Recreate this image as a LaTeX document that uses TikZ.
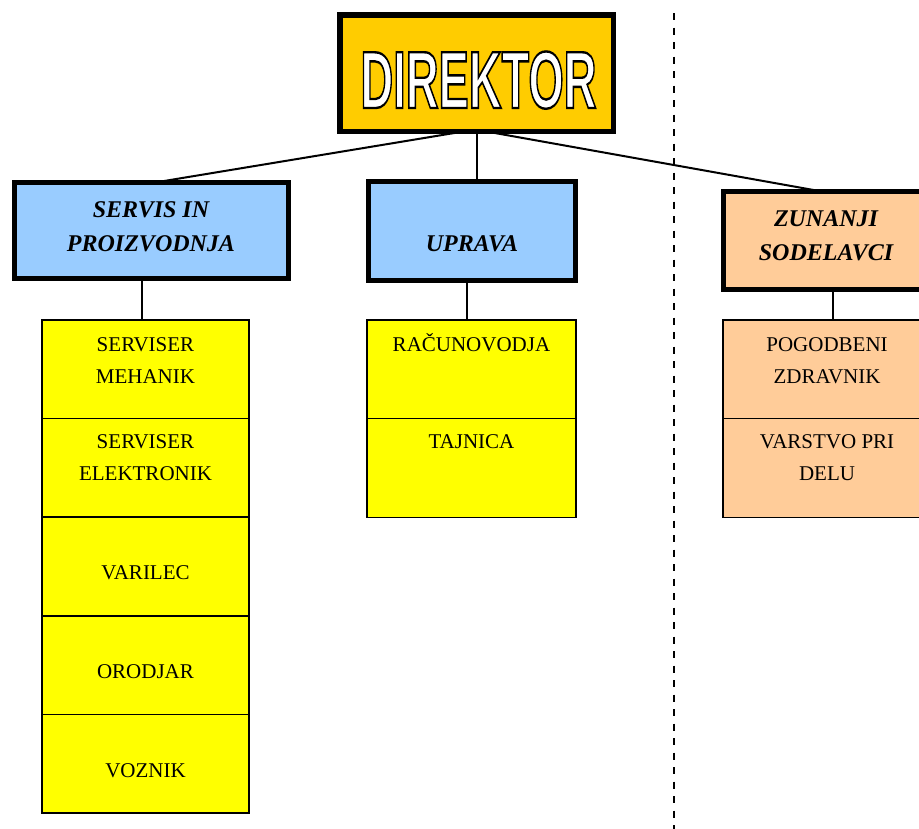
\documentclass[tikz,border=0pt]{standalone}
\usepackage{fontspec}
\setmainfont{Liberation Serif}
\newfontfamily\dirfont{Liberation Sans}
\definecolor{dirgold}{HTML}{FFCC00}
\definecolor{headblue}{HTML}{99CCFF}
\definecolor{ylw}{HTML}{FFFF00}
\definecolor{peach}{HTML}{FFCC99}
\newcommand\dirtext{\special{pdf:literal direct q 2 Tr 2.4 w 0 0 0 RG 1 1 1 rg}\scalebox{0.56}[1]{\fontsize{81}{81}\selectfont\dirfont\bfseries DIREKTOR}\special{pdf:literal direct Q}}
\begin{document}
\begin{tikzpicture}[x=1pt,y=-1pt,
  topbox/.style={draw, line width=5.5pt, fill=dirgold, inner sep=0pt, outer sep=0pt, minimum width=273.5pt, minimum height=116.5pt},
  head/.style={draw, line width=5pt, inner sep=0pt, outer sep=0pt},
  cell/.style={draw, line width=1.5pt, inner sep=0pt, outer sep=0pt},
  conn/.style={line width=2pt},
  htxt/.style={anchor=base, inner sep=0pt, font=\fontsize{24}{24}\selectfont\bfseries\itshape},
  ctxt/.style={anchor=base, inner sep=0pt, font=\fontsize{21}{21}\selectfont}
]
\useasboundingbox (0,0) rectangle (919,828);
% dashed separator
\coordinate (dtop) at (674,13);
\coordinate (dbot) at (674,830);
\draw[line width=2pt, dash pattern=on 7pt off 7.5pt] (dtop) -- (dbot);

% director
\node[topbox] (dir) at (476.5,73) {};
\node[anchor=base, inner sep=0pt] (dkt) at (478.5,108) {\dirtext};

% heads
\node[head, fill=headblue, minimum width=274pt, minimum height=96pt] (serv) at (151.5,230.5) {};
\node[head, fill=headblue, minimum width=207pt, minimum height=99pt] (upr) at (472,231) {};
\node[head, fill=peach, minimum width=205pt, minimum height=98pt] (zun) at (826,240.5) {};

\node[htxt] (t1) at (151,217) {SERVIS IN};
\node[htxt] (t2) at (151,251) {PROIZVODNJA};
\node[htxt] (t3) at (472,251) {UPRAVA};
\node[htxt] (t4) at (826,226) {ZUNANJI};
\node[htxt] (t5) at (826,260) {SODELAVCI};

% cells left
\node[cell, fill=ylw, minimum width=207pt, minimum height=98.6pt] (l1) at (145.5,369.3) {};
\node[cell, fill=ylw, minimum width=207pt, minimum height=98.6pt] (l2) at (145.5,467.9) {};
\node[cell, fill=ylw, minimum width=207pt, minimum height=98.6pt] (l3) at (145.5,566.5) {};
\node[cell, fill=ylw, minimum width=207pt, minimum height=98.6pt] (l4) at (145.5,665.1) {};
\node[cell, fill=ylw, minimum width=207pt, minimum height=98.6pt] (l5) at (145.5,763.7) {};
% cells middle
\node[cell, fill=ylw, minimum width=209pt, minimum height=98.75pt] (m1) at (471.5,369.4) {};
\node[cell, fill=ylw, minimum width=209pt, minimum height=98.75pt] (m2) at (471.5,468.1) {};
% cells right
\node[cell, fill=peach, minimum width=208pt, minimum height=98.75pt] (r1) at (827,369.4) {};
\node[cell, fill=peach, minimum width=208pt, minimum height=98.75pt] (r2) at (827,468.1) {};

% cell texts
\node[ctxt] (a1) at (145.5,351) {SERVISER};
\node[ctxt] (a2) at (145.5,383) {MEHANIK};
\node[ctxt] (a3) at (145.5,448) {SERVISER};
\node[ctxt] (a4) at (145.5,480) {ELEKTRONIK};
\node[ctxt] (a5) at (145.5,579) {VARILEC};
\node[ctxt] (a6) at (145.5,678) {ORODJAR};
\node[ctxt] (a7) at (145.5,777) {VOZNIK};
\node[ctxt] (b1) at (471.5,351) {RAČUNOVODJA};
\node[ctxt] (b2) at (471.5,448) {TAJNICA};
\node[ctxt] (c1) at (827,351) {POGODBENI};
\node[ctxt] (c2) at (827,383) {ZDRAVNIK};
\node[ctxt] (c3) at (827,448) {VARSTVO PRI};
\node[ctxt] (c4) at (827,480) {DELU};

% connectors
\draw[conn] ([xshift=-11.5pt]dir.south) -- ([xshift=3.5pt]serv.north);
\draw[conn] ([xshift=0.5pt]dir.south) -- ([xshift=0.5pt]dir.south |- upr.north);
\draw[conn] ([xshift=8.5pt]dir.south) -- ([xshift=-4pt]zun.north);
\draw[conn] ([xshift=-3.5pt]l1.north) -- ([xshift=-3.5pt]l1.north |- serv.south);
\draw[conn] ([xshift=-4.5pt]m1.north) -- ([xshift=-4.5pt]m1.north |- upr.south);
\draw[conn] ([xshift=6pt]r1.north) -- ([xshift=6pt]r1.north |- zun.south);
\end{tikzpicture}
\end{document}
